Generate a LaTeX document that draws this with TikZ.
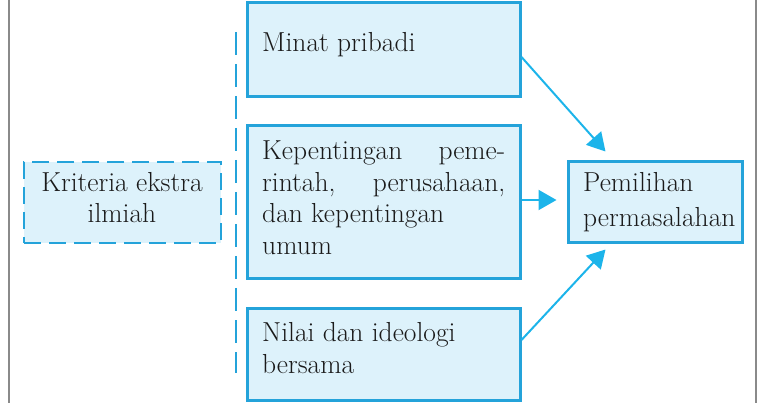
\documentclass[tikz,border=0pt]{standalone}
\usepackage{fontspec}
\usetikzlibrary{arrows.meta,calc}
\definecolor{boxfill}{HTML}{DDF2FB}
\definecolor{boxline}{HTML}{24A3DA}
\definecolor{arrowc}{HTML}{1CB4EA}
\definecolor{framec}{HTML}{8A8A8A}
\definecolor{textc}{HTML}{1A1A1A}
\begin{document}
\begin{tikzpicture}[x=1pt,y=-1pt,
  solidbox/.style={draw=boxline,fill=boxfill,line width=3pt,inner sep=0pt},
  dashbox/.style={draw=boxline,fill=boxfill,line width=2.2pt,dash pattern=on 17pt off 8pt,inner sep=0pt},
  lbl/.style={inner sep=0pt,text=textc,font=\fontsize{27.5}{31.5}\selectfont},
  conn/.style={draw=arrowc,line width=2pt,-{Triangle[length=18pt,width=20pt]}}]
\useasboundingbox (0,0) rectangle (768,403);
\draw[framec,line width=2pt] (9,0) -- (9,403);
\draw[framec,line width=2pt] (756,0) -- (756,403);
% boxes
\node[solidbox,minimum width=273pt,minimum height=94pt] (b1) at (383.5,50) {};
\node[solidbox,minimum width=273pt,minimum height=153pt] (b2) at (383.5,202.5) {};
\node[solidbox,minimum width=273pt,minimum height=92pt] (b3) at (383.5,354) {};
\node[solidbox,minimum width=174pt,minimum height=81pt] (b4) at (655,202.5) {};
\node[dashbox,minimum width=197pt,minimum height=81pt] (k) at (122.5,202.5) {};
% dashed separator
\coordinate (s1) at (236,32);
\coordinate (s2) at (236,373);
\draw[boxline,line width=2.5pt,dash pattern=on 23pt off 9pt] (s1) -- (s2);
% labels
\node[lbl,anchor=base west] (t1) at (262,52) {Minat pribadi};
\node[lbl,anchor=base west,text width=243pt,align=justify] (t2) at (262,160)
  {\hyphenpenalty=10000 Kepentingan peme-\linebreak rintah, perusahaan,\linebreak dan kepentingan\\umum};
\node[lbl,anchor=base west,align=left] (t3) at (262,373) {Nilai dan ideologi\\bersama};
\node[lbl,anchor=base west,align=left,font=\fontsize{27.5}{35}\selectfont] (t4) at (583,227) {Pemilihan\\permasalahan};
\node[lbl,anchor=base,align=center] (tk) at (122,223) {Kriteria ekstra\\ilmiah};
% connectors
\draw[conn] ($(b1.east)+(0,7)$) -- ($(b4.north west)+(39,-9)$);
\draw[conn] ($(b2.east)+(0,-2.5)$) -- ($(b4.west)+(-10,-2.5)$);
\draw[conn] ($(b3.east)+(0,-14)$) -- ($(b4.south west)+(39,5)$);
\end{tikzpicture}
\end{document}
